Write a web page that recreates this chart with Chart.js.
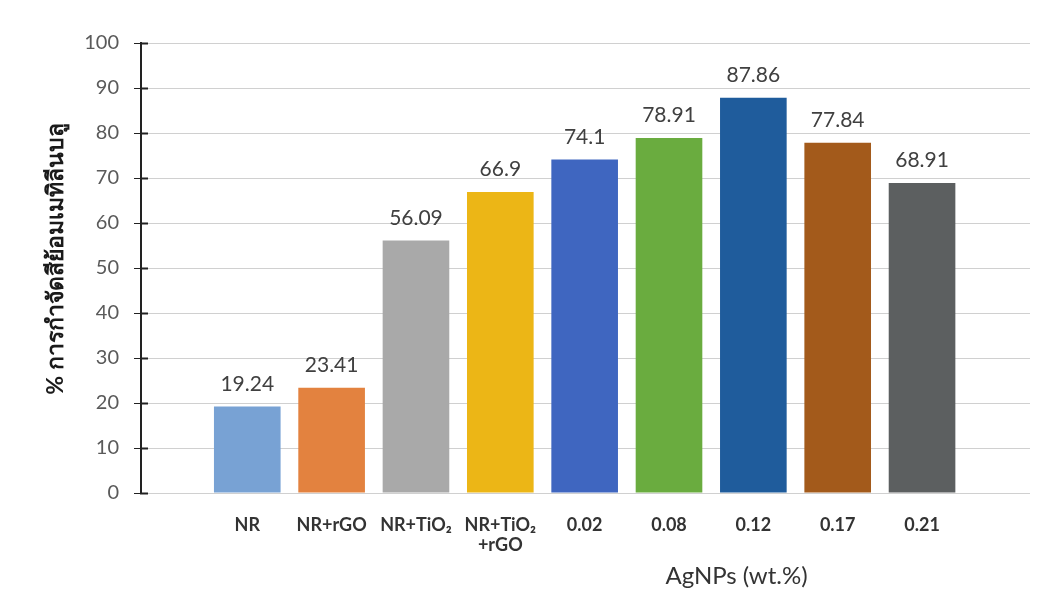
<!DOCTYPE html>
<html>
<head>
<meta charset="utf-8">
<script src="https://cdn.jsdelivr.net/npm/chart.js@4.4.1/dist/chart.umd.min.js"></script>
<style>
  html, body { margin: 0; padding: 0; background: #ffffff; }
  #wrap { width: 1064px; height: 592px; position: relative; }
</style>
</head>
<body>
<div id="wrap"><canvas id="c"></canvas></div>
<script>
// Sample groups along the x axis (multi-line labels are arrays)
const categories = [['NR'], ['NR+rGO'], ['NR+TiO₂'], ['NR+TiO₂', '+rGO'], ['0.02'], ['0.08'], ['0.12'], ['0.17'], ['0.21']];
// Methylene blue removal (%)
const removal = [19.24, 23.41, 56.09, 66.9, 74.1, 78.91, 87.86, 77.84, 68.91];
// Y axis tick values
const yTicks = [0, 10, 20, 30, 40, 50, 60, 70, 80, 90, 100];
// One fill colour per bar
const barColors = ['#78a2d4', '#e3823f', '#a9a9a9', '#ecb616', '#3f66c0', '#6aac3f', '#1f5c9c', '#a35a1b', '#5c5f60'];
const yTitle = '% การกำจัดสีย้อมเมทิลีนบลู';
const xTitle = 'AgNPs (wt.%)';

const FONT = "Lato, 'Open Sans', 'Noto Sans', sans-serif";

// Value labels above each bar
const valueLabels = {
  id: 'valueLabels',
  afterDatasetsDraw(chart) {
    const ctx = chart.ctx;
    const meta = chart.getDatasetMeta(0);
    ctx.save();
    ctx.font = '21px ' + FONT;
    ctx.fillStyle = '#404040';
    ctx.textAlign = 'center';
    ctx.textBaseline = 'bottom';
    meta.data.forEach((bar, i) => {
      ctx.fillText(String(removal[i]), bar.x, bar.y - 12);
    });
    ctx.restore();
  }
};

// Tick marks crossing the y axis line, plus axis titles
const axisDecor = {
  id: 'axisDecor',
  afterDraw(chart) {
    const ctx = chart.ctx;
    const ys = chart.scales.y;
    const xs = chart.scales.x;
    ctx.save();
    ctx.strokeStyle = '#222222';
    ctx.lineWidth = 2;
    yTicks.forEach(v => {
      const py = Math.round(ys.getPixelForValue(v)) + 0.5;
      ctx.beginPath();
      ctx.moveTo(ys.right - 1, py);
      ctx.lineTo(ys.right + 7, py);
      ctx.stroke();
    });

    // y title
    ctx.fillStyle = '#1a1a1a';
    ctx.font = 'bold 23px ' + FONT;
    ctx.textAlign = 'center';
    ctx.textBaseline = 'middle';
    ctx.translate(56, 259);
    ctx.rotate(-Math.PI / 2);
    ctx.fillText(yTitle, 0, 0);
    ctx.restore();

    // x title
    ctx.save();
    ctx.fillStyle = '#333333';
    ctx.font = '24px ' + FONT;
    ctx.textAlign = 'center';
    ctx.textBaseline = 'middle';
    ctx.fillText(xTitle, xs.getPixelForValue(5.8), 576);
    ctx.restore();
  }
};

new Chart(document.getElementById('c'), {
  type: 'bar',
  data: {
    datasets: [{
      data: removal.map((v, i) => ({ x: i, y: v })),
      backgroundColor: barColors,
      borderWidth: 0,
      categoryPercentage: 1,
      barPercentage: 0.79
    }]
  },
  options: {
    responsive: true,
    maintainAspectRatio: false,
    animation: false,
    layout: { padding: { left: 0, top: 43, right: 34, bottom: 0 } },
    plugins: { legend: { display: false }, tooltip: { enabled: false } },
    scales: {
      x: {
        type: 'linear',
        offset: false,
        min: -1.26,
        max: 9.28,
        afterBuildTicks(scale) {
          scale.ticks = categories.map((_, i) => ({ value: i }));
        },
        afterFit(scale) { scale.height = 99; },
        grid: { display: false, drawTicks: false, offset: false },
        border: { display: false },
        ticks: {
          autoSkip: false,
          maxRotation: 0,
          padding: 22,
          color: '#333333',
          font: { family: FONT, size: 18, weight: 'bold', lineHeight: 1.1 },
          callback: v => categories[v]
        }
      },
      y: {
        min: 0,
        max: 100,
        afterBuildTicks(scale) {
          scale.ticks = yTicks.map(v => ({ value: v }));
        },
        afterFit(scale) { scale.width = 141; },
        grid: { color: '#d0d0d0', lineWidth: 1, tickColor: '#222222', tickLength: 7 },
        border: { display: true, color: '#222222', width: 2 },
        ticks: {
          padding: 15,
          color: '#5a5a5a',
          font: { family: FONT, size: 20 }
        }
      }
    }
  },
  plugins: [valueLabels, axisDecor]
});
</script>
</body>
</html>
